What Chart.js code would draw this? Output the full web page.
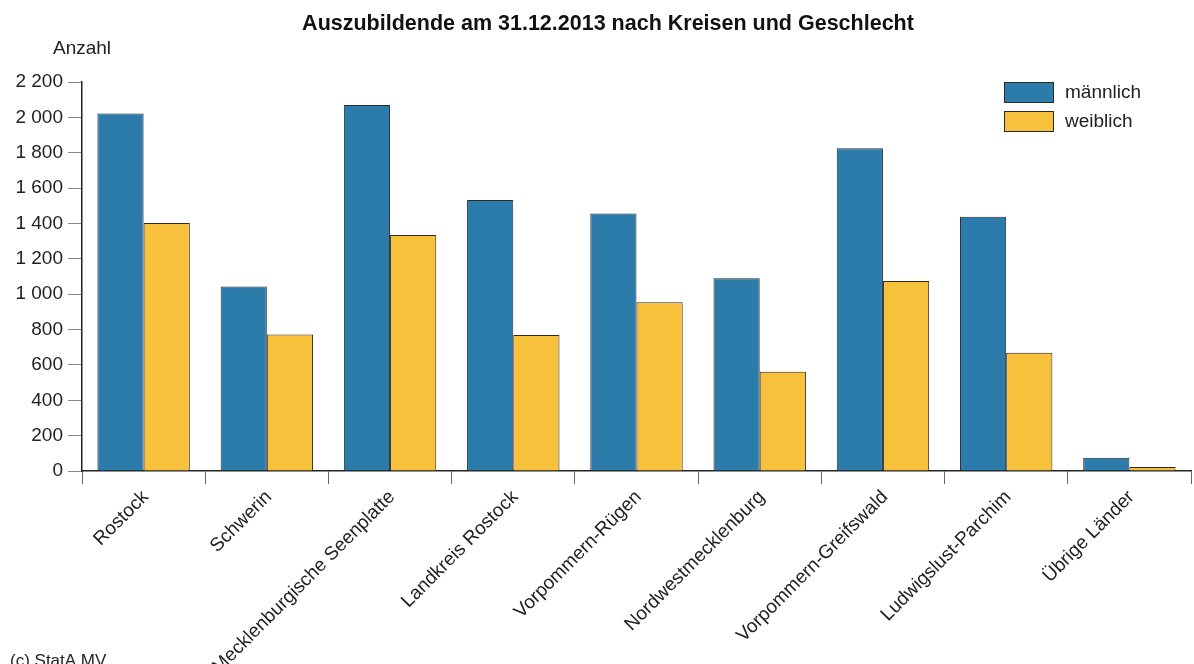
<!DOCTYPE html>
<html>
<head>
<meta charset="utf-8">
<script src="https://cdn.jsdelivr.net/npm/chart.js@4"></script>
<style>
html,body{margin:0;padding:0;background:#fff;}
canvas{display:block;}
</style>
</head>
<body>
<canvas id="c" width="1194" height="664"></canvas>
<script>
const categories = ["Rostock","Schwerin","Mecklenburgische Seenplatte","Landkreis Rostock","Vorpommern-Rügen","Nordwestmecklenburg","Vorpommern-Greifswald","Ludwigslust-Parchim","Übrige Länder"];
const maleValues = [2022,1044,2070,1533,1457,1090,1825,1438,75];
const femaleValues = [1403,772,1335,769,954,562,1075,669,23];
const seriesNames = ["männlich","weiblich"];
const titleText = "Auszubildende am 31.12.2013 nach Kreisen und Geschlecht";
const yAxisTitle = "Anzahl";
const sourceText = "(c) StatA MV";

const FONT = "'Liberation Sans', Arial, sans-serif";
const BLUE = "#2b7bab";
const YELLOW = "#f7c13b";
const BORDER = "#2a2a2a";

function fmt(v){ return String(v).replace(/\B(?=(\d{3})+(?!\d))/g, " "); }

const decor = {
  id: "decor",
  afterDraw(chart){
    const ctx = chart.ctx;
    ctx.save();
    ctx.fillStyle = "#111";
    ctx.textBaseline = "middle";
    ctx.font = "bold 21.5px " + FONT;
    ctx.textAlign = "center";
    ctx.fillText(titleText, 608, 24);
    ctx.font = "19px " + FONT;
    ctx.textAlign = "left";
    ctx.fillStyle = "#222";
    ctx.fillText(yAxisTitle, 53, 49);
    ctx.font = "17px " + FONT;
    ctx.textBaseline = "alphabetic";
    ctx.fillText(sourceText, 10, 666);
    // legend
    ctx.textBaseline = "middle";
    ctx.font = "19px " + FONT;
    chart.data.datasets.forEach((ds, i) => {
      const y = 82 + i * 29;
      ctx.fillStyle = ds.backgroundColor;
      ctx.fillRect(1004, y, 49, 20);
      ctx.strokeStyle = BORDER;
      ctx.lineWidth = 1;
      ctx.strokeRect(1004.5, y + 0.5, 49, 20);
      ctx.fillStyle = "#222";
      ctx.fillText(ds.label, 1065, y + 11);
    });
    ctx.restore();
  }
};

new Chart(document.getElementById("c"), {
  type: "bar",
  data: {
    labels: categories,
    datasets: [
      { label: seriesNames[0], data: maleValues, backgroundColor: BLUE, borderColor: BORDER, borderWidth: 1 },
      { label: seriesNames[1], data: femaleValues, backgroundColor: YELLOW, borderColor: BORDER, borderWidth: 1 }
    ]
  },
  options: {
    responsive: false,
    animation: false,
    devicePixelRatio: 1,
    layout: { padding: { left: 0, right: 3, top: 82, bottom: 0 } },
    datasets: { bar: { categoryPercentage: 0.75, barPercentage: 1.0 } },
    plugins: { legend: { display: false }, title: { display: false }, tooltip: { enabled: false } },
    scales: {
      x: {
        grid: { display: true, drawOnChartArea: false, drawTicks: true, tickLength: 13, color: "#666", offset: true },
        border: { display: true, color: "#222", width: 1.5 },
        ticks: { maxRotation: 45, minRotation: 45, autoSkip: false, color: "#222", font: { family: FONT, size: 19 }, labelOffset: 2, padding: 2 },
        afterFit(scale){ scale.height = 193; }
      },
      y: {
        min: 0, max: 2200,
        grid: { display: true, drawOnChartArea: false, drawTicks: true, tickLength: 14, color: "#888" },
        border: { display: true, color: "#222", width: 1.5 },
        ticks: { stepSize: 200, color: "#222", font: { family: FONT, size: 19 }, padding: 5, callback: (v) => fmt(v) },
        afterFit(scale){ scale.width = 82; }
      }
    }
  },
  plugins: [decor]
});
</script>
</body>
</html>
